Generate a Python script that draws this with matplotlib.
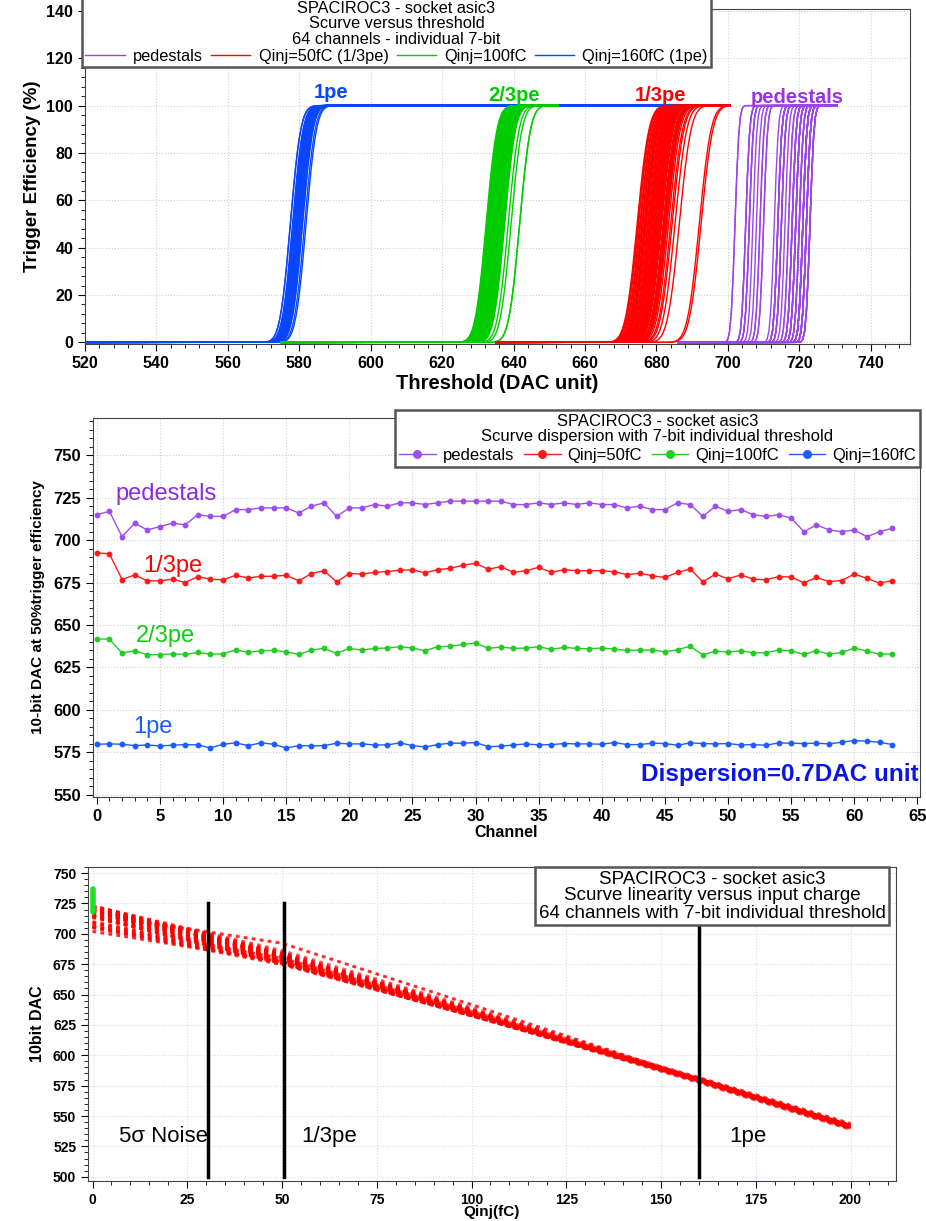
import math
import numpy as np
import matplotlib
matplotlib.use("Agg")
import matplotlib.pyplot as plt
from matplotlib.ticker import MultipleLocator

# 50% trigger points per channel (DAC)
channels = list(range(64))
ped_50 = [715, 717, 702, 710, 706, 708, 710, 709, 715, 714, 714, 718, 718, 719, 719, 719,
          716, 720, 722, 714, 719, 719, 721, 720, 722, 722, 721, 722, 723, 723, 723, 723,
          723, 721, 721, 722, 721, 722, 721, 722, 721, 721, 719, 720, 718, 718, 722, 721,
          714, 720, 717, 718, 715, 714, 715, 713, 705, 709, 706, 705, 706, 702, 705, 707]
q50_50 = [692.5, 692, 676.8, 679.5, 676, 676, 677, 675, 678.5, 677, 676.6, 679.3, 677.7, 678.7, 678.7, 679.3,
          676, 680.3, 682, 675.4, 680.3, 680, 681, 681.5, 682.3, 682.5, 680.7, 682.6, 683.4, 685.2, 686.4, 682.8,
          684.4, 681, 682, 684, 681, 682.6, 682, 682, 682, 681.3, 679.7, 680.5, 679, 678, 681, 683,
          675.4, 680, 677.2, 679.5, 677, 676.6, 678.5, 678.3, 674.8, 678, 675.6, 676.2, 680, 677.5, 674.6, 676.2]
q100_50 = [641.7, 641.7, 633.4, 634.8, 632.5, 632.5, 633, 632.6, 633.8, 632.8, 633, 635.4, 633.8, 634.8, 635, 634.2,
           632.6, 635.2, 636.2, 633.2, 636.2, 635.2, 636.2, 636.4, 637.2, 636.4, 634.8, 637.2, 637.4, 638.5, 639.3, 636.2,
           637, 636.2, 636.4, 637.2, 635.6, 636.8, 636.2, 636, 636.4, 635.8, 635, 635.2, 635.2, 634.2, 635.4, 637.5,
           632.3, 634.6, 634, 634.8, 633.6, 633.6, 635.2, 634.8, 632.6, 634.8, 632.8, 633.8, 636.4, 634.6, 632.8, 633]
q160_50 = [579.7, 579.9, 579.7, 578.9, 579.3, 578.7, 579.1, 579.5, 579.3, 577.5, 579.7, 580.5, 578.9, 580.5, 579.7, 577.5,
           578.9, 578.7, 578.9, 580.3, 579.9, 579.9, 579.3, 579.3, 580.5, 578.9, 578.1, 579.5, 580.3, 580.3, 580.7, 578.3,
           578.5, 579.3, 579.9, 579.3, 579.5, 580.1, 579.9, 579.9, 579.7, 580.7, 579.5, 579.5, 580.3, 580.1, 579.1, 580.5,
           580.1, 579.9, 580.1, 579.3, 579.5, 579.1, 580.5, 580.3, 580.1, 580.3, 579.9, 580.9, 581.9, 581.5, 580.9, 579.5]
# threshold at Qinj=200fC (estimated from the linearity plot)
q200_50 = [541, 541.5, 541, 540.5, 541, 540, 540.5, 541, 541, 539, 541, 542, 540.5, 542, 541, 539,
           540.5, 540, 540.5, 542, 541.5, 541.5, 541, 541, 542, 540.5, 539.5, 541, 542, 542, 542.5, 540,
           540, 541, 541.5, 541, 541, 541.5, 541.5, 541.5, 541, 542.5, 541, 541, 542, 541.5, 540.5, 542,
           541.5, 541.5, 541.5, 541, 541, 540.5, 542, 542, 541.5, 542, 541.5, 543, 544, 543.5, 543, 541]

series_names = ["pedestals", "Qinj=50fC (1/3pe)", "Qinj=100fC", "Qinj=160fC (1pe)"]
disp_names = ["pedestals", "Qinj=50fC", "Qinj=100fC", "Qinj=160fC"]
series_colors = ["#9a45e8", "#ff0000", "#00cc00", "#0a46ff"]
# S-curve scan ranges (DAC) and curve width per series
scan_ranges = [(686, 730), (635, 700), (575, 652), (520, 700)]
scurve_sigma = [0.9, 2.6, 2.4, 2.3]

q_points = [0, 50, 100, 160, 200]
marker_lines = [30.5, 50.5, 160]
marker_texts = ["5\u03c3 Noise", "1/3pe", "1pe"]

plt.rcParams["font.family"] = ["Liberation Sans", "DejaVu Sans"]

fig = plt.figure(figsize=(9.26, 12.21), dpi=100)

# ---------------- top: S-curves ----------------
ax1 = fig.add_axes([85 / 926, 1 - 344 / 1221, 825 / 926, 335.5 / 1221])
erf = np.vectorize(math.erf)
mids = [ped_50, q50_50, q100_50, q160_50]
handles = {}
for k in [3, 2, 1, 0]:
    lo, hi = scan_ranges[k]
    x = np.arange(lo, hi + 1, 0.5)
    for m in mids[k]:
        y = 50 * (1 + erf((x - m) / (scurve_sigma[k] * math.sqrt(2))))
        h, = ax1.plot(x, y, color=series_colors[k], lw=1.0)
    handles[k] = h
ax1.set_xlim(520, 751)
ax1.set_ylim(-0.7, 141)
ax1.xaxis.set_major_locator(MultipleLocator(20))
ax1.xaxis.set_minor_locator(MultipleLocator(4))
ax1.yaxis.set_major_locator(MultipleLocator(20))
ax1.yaxis.set_minor_locator(MultipleLocator(4))
ax1.grid(True, which="major", color="#d0d0d0", ls=":", lw=0.8)
for lab in ax1.get_xticklabels() + ax1.get_yticklabels():
    lab.set_fontweight("bold")
    lab.set_fontsize(11.5)
ax1.set_xlabel("Threshold (DAC unit)", fontsize=14.5, fontweight="bold", labelpad=2)
ax1.set_ylabel("Trigger Efficiency (%)", fontsize=13.5, fontweight="bold", labelpad=4)
ax1.text(589, 101.5, "1pe", color="#0a46ff", fontsize=14.5, fontweight="bold", ha="center", va="bottom")
ax1.text(640, 100.3, "2/3pe", color="#00cc00", fontsize=14.5, fontweight="bold", ha="center", va="bottom")
ax1.text(681, 100.3, "1/3pe", color="#ff0000", fontsize=14.5, fontweight="bold", ha="center", va="bottom")
ax1.text(719.5, 99.3, "pedestals", color="#9a33e8", fontsize=14.5, fontweight="bold", ha="center", va="bottom")
leg1 = fig.legend([handles[k] for k in range(4)], series_names, loc="upper left",
                  bbox_to_anchor=(82 / 926, 1.002), ncol=4, borderaxespad=0,
                  title="SPACIROC3 - socket asic3\nScurve versus threshold\n64 channels - individual 7-bit",
                  prop={"size": 11.8}, title_fontsize=11.8,
                  fancybox=False, framealpha=1, edgecolor="#555555", handlelength=2.4,
                  handletextpad=0.5, columnspacing=0.5, borderpad=0.2, labelspacing=0.1)
leg1.get_title().set_multialignment("center")
leg1.get_title().set_linespacing(1.05)
leg1.get_frame().set_linewidth(1.8)

# ---------------- middle: dispersion ----------------
ax2 = fig.add_axes([93 / 926, 1 - 797 / 1221, 827 / 926, 379 / 1221])
disp_colors = ["#9d4ded", "#ff1a1a", "#22cc22", "#1a5cff"]
mhandles = []
for k in range(4):
    h, = ax2.plot(channels, mids[k], color=disp_colors[k], lw=1.0, marker="o", ms=3.2)
    mhandles.append(h)
ax2.set_xlim(-0.3, 65.2)
ax2.set_ylim(548.6, 772)
ax2.xaxis.set_major_locator(MultipleLocator(5))
ax2.xaxis.set_minor_locator(MultipleLocator(1))
ax2.yaxis.set_major_locator(MultipleLocator(25))
ax2.yaxis.set_minor_locator(MultipleLocator(5))
ax2.grid(True, which="major", color="#d0d0d0", ls=":", lw=0.8)
for lab in ax2.get_xticklabels() + ax2.get_yticklabels():
    lab.set_fontweight("bold")
    lab.set_fontsize(12)
ax2.set_xlabel("Channel", fontsize=11.5, fontweight="bold", labelpad=1)
ax2.set_ylabel("10-bit DAC at 50%trigger efficiency", fontsize=11, fontweight="bold", labelpad=6)
ax2.text(1.5, 727, "pedestals", color="#8a2be2", fontsize=17, va="center")
ax2.text(3.7, 685, "1/3pe", color="#ff0000", fontsize=17, va="center")
ax2.text(3.1, 643.5, "2/3pe", color="#11cc11", fontsize=17, va="center")
ax2.text(2.9, 590, "1pe", color="#1a5cff", fontsize=17, va="center")
ax2.text(65.1, 562, "Dispersion=0.7DAC unit", color="#0a14e6", fontsize=17.5, fontweight="bold",
         ha="right", va="center")
leg2 = fig.legend(mhandles, disp_names, loc="lower right", bbox_to_anchor=(920 / 926, 1 - 467 / 1221),
                  ncol=4, borderaxespad=0,
                  title="SPACIROC3 - socket asic3\nScurve dispersion with 7-bit individual threshold",
                  prop={"size": 12}, title_fontsize=12, fancybox=False, framealpha=1,
                  edgecolor="#555555", handlelength=2.2, handletextpad=0.4, columnspacing=0.6,
                  borderpad=0.25, labelspacing=0.2, markerscale=1.7)
leg2.get_title().set_multialignment("center")
leg2.get_title().set_linespacing(1.05)
leg2.get_frame().set_linewidth(1.8)

# ---------------- bottom: linearity ----------------
ax3 = fig.add_axes([88 / 926, 1 - 1181 / 1221, 808 / 926, 314 / 1221])
for i in channels:
    ax3.plot(q_points, [ped_50[i], q50_50[i], q100_50[i], q160_50[i], q200_50[i]],
             color="#ff0000", lw=2.0, ls=(0, (1.3, 1.6)), alpha=0.6)
ax3.plot([0, 0], [718, 737], color="#22dd22", lw=4, solid_capstyle="round")
for xv in marker_lines:
    ax3.plot([xv, xv], [500, 725], color="black", lw=2.5, zorder=4)
ax3.text(7, 533, marker_texts[0], fontsize=16, va="center")
ax3.text(55, 533, marker_texts[1], fontsize=16, va="center")
ax3.text(168, 533, marker_texts[2], fontsize=16, va="center")
ax3.set_xlim(-1.2, 212)
ax3.set_ylim(496.5, 755)
ax3.xaxis.set_major_locator(MultipleLocator(25))
ax3.xaxis.set_minor_locator(MultipleLocator(5))
ax3.yaxis.set_major_locator(MultipleLocator(25))
ax3.yaxis.set_minor_locator(MultipleLocator(5))
ax3.grid(True, which="major", color="#d8d8f0", ls=":", lw=0.8)
for lab in ax3.get_xticklabels() + ax3.get_yticklabels():
    lab.set_fontweight("bold")
    lab.set_fontsize(10)
ax3.set_xlabel("Qinj(fC)", fontsize=11, fontweight="bold", labelpad=-1)
ax3.set_ylabel("10bit DAC", fontsize=11.5, fontweight="bold", labelpad=6)
ax3.text(712 / 926, 1 - 896 / 1221,
         "SPACIROC3 - socket asic3\nScurve linearity versus input charge\n64 channels with 7-bit individual threshold",
         transform=fig.transFigure, ha="center", va="center", fontsize=13.5, zorder=10,
         linespacing=1.0,
         bbox=dict(boxstyle="square,pad=0.2", fc="white", ec="#555555", lw=1.8))

for ax in (ax1, ax2, ax3):
    ax.tick_params(which="both", direction="out")
    ax.tick_params(which="major", length=5)
    ax.tick_params(which="minor", length=3)
    for sp in ax.spines.values():
        sp.set_color("#444444")

fig.savefig("out.png", dpi=100)
